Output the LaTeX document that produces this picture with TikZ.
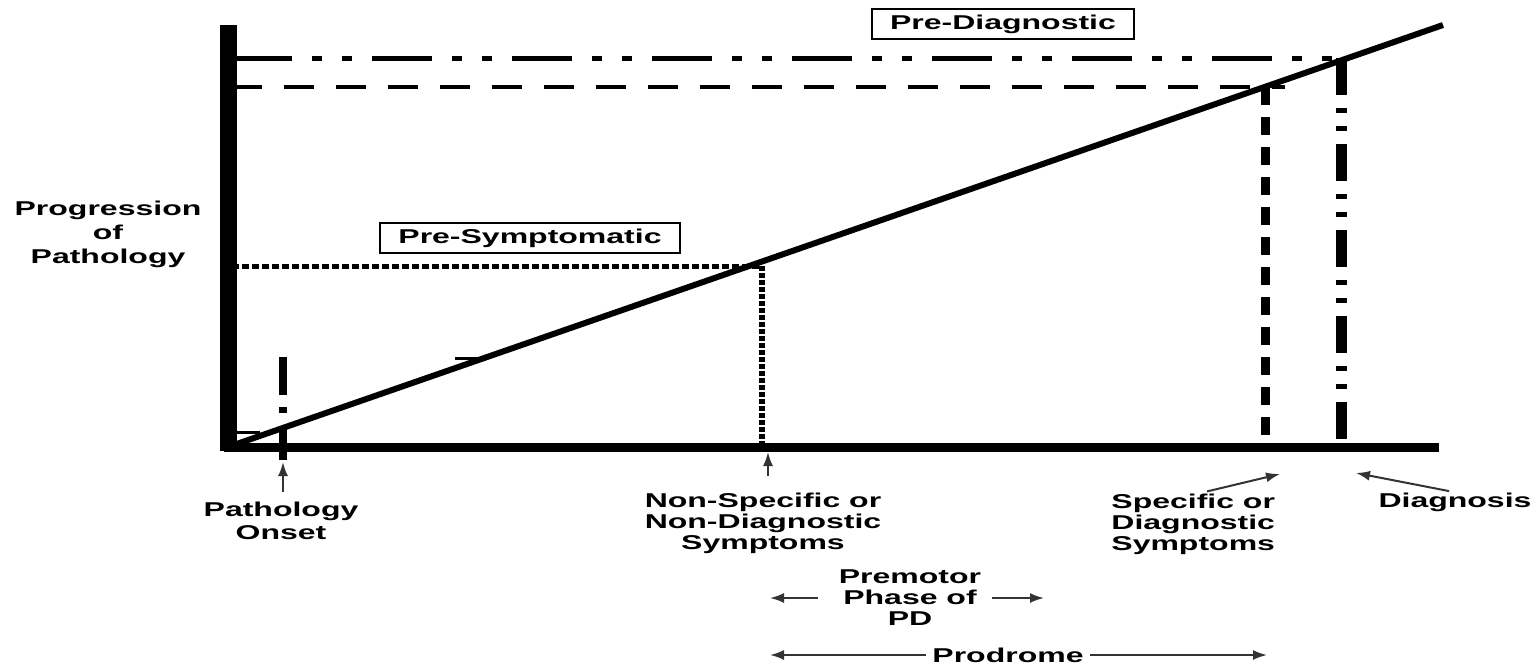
\documentclass[tikz,border=0pt]{standalone}
\usepackage{fontspec}
\usepackage{tikz}
\usetikzlibrary{arrows.meta}
\newfontfamily\lblfont{Liberation Sans}[FakeStretch=1.6]

\tikzset{
  lbl/.style={font=\lblfont\bfseries\fontsize{10}{10.5}\selectfont, align=center, inner sep=0pt},
  tagbox/.style={lbl, draw, line width=1pt, inner xsep=9pt, inner ysep=3pt},
  arr/.style={-{Latex[length=7pt,width=5pt]}, line width=1pt, black!80},
}

\begin{document}
\begin{tikzpicture}[x=0.5pt,y=-0.5pt]
        \useasboundingbox (0,0) rectangle (1539,666);
        % axes and progression line
        \coordinate (O) at (228,447);
        \draw[line width=8.5pt] (228,25) -- (228,451);
        \draw[line width=4.5pt] (224,447) -- (1439,447);
        \draw[line width=3pt] (O) -- (1443,25);
        % guide lines
        \draw[line width=2.5pt, dash pattern=on 30pt off 10pt on 5pt off 10pt on 5pt off 10pt] (232,58) -- (1338,58);
        \draw[line width=2.3pt, dash pattern=on 15pt off 11pt] (232,87) -- (1285,87);
        \draw[line width=2.5pt, dash pattern=on 3.5pt off 1.5pt] (232,266) -- (762,266);
        \draw[line width=3pt, dash pattern=on 2.5pt off 1pt] (762,266) -- (762,445);
        \draw[line width=4.5pt, dash pattern=on 9pt off 6pt] (1265,87) -- (1265,445);
        \draw[line width=5.5pt, dash pattern=on 18.5pt off 6.5pt on 2.5pt off 6.5pt on 2.5pt off 6.5pt] (1341,58) -- (1341,445);
        \draw[line width=4pt, dash pattern=on 19pt off 6pt on 3pt off 7pt] (283,357) -- (283,460);
        \draw[line width=1.5pt] (237,432) -- (260,432);
        \draw[line width=1.5pt] (455,358) -- (485,358);
        % labels
        \node[lbl] (prog) at (108,234) {Progression\\[1.5pt]of\\[1.5pt]Pathology};
        \node[tagbox] (presym) at (530,238) {Pre-Symptomatic};
        \node[tagbox] (prediag) at (1003,24) {Pre-Diagnostic};
        \node[lbl] (onset) at (281,521) {Pathology\\[1pt]Onset};
        \node[lbl] (nonspec) at (763,523) {Non-Specific or\\Non-Diagnostic\\Symptoms};
        \node[lbl, align=left, anchor=west] (spec) at (1111,524) {Specific or\\Diagnostic\\Symptoms};
        \node[lbl] (diag) at (1455,502) {Diagnosis};
        \node[lbl] (premotor) at (910,598) {Premotor\\Phase of\\PD};
        \node[lbl] (prodrome) at (1008,655) {Prodrome};
        % arrows
        \coordinate (onsettip) at (283,462);
        \coordinate (nstip) at (768,452);
        \coordinate (spectip) at (1280,474);
        \coordinate (diagtip) at (1356,473);
        \coordinate (pmleft) at (770,598);
        \coordinate (pmright) at (1044,598);
        \coordinate (pdleft) at (770,655);
        \coordinate (pdright) at (1267,655);
        \draw[arr, shorten <=5pt] (onsettip |- onset.north) -- (onsettip);
        \draw[arr, shorten <=8pt] (nstip |- nonspec.north) -- (nstip);
        \draw[arr, shorten <=4pt] ([xshift=3pt]spec.north) -- (spectip);
        \draw[arr, shorten <=3pt] (diag.north) -- (diagtip);
        \draw[arr, shorten <=10pt] (premotor.west |- pmleft) -- (pmleft);
        \draw[arr, shorten <=5pt] (premotor.east |- pmright) -- (pmright);
        \draw[arr, shorten <=3pt] (prodrome.west) -- (pdleft);
        \draw[arr, shorten <=3pt] (prodrome.east) -- (pdright);
\end{tikzpicture}
\end{document}
